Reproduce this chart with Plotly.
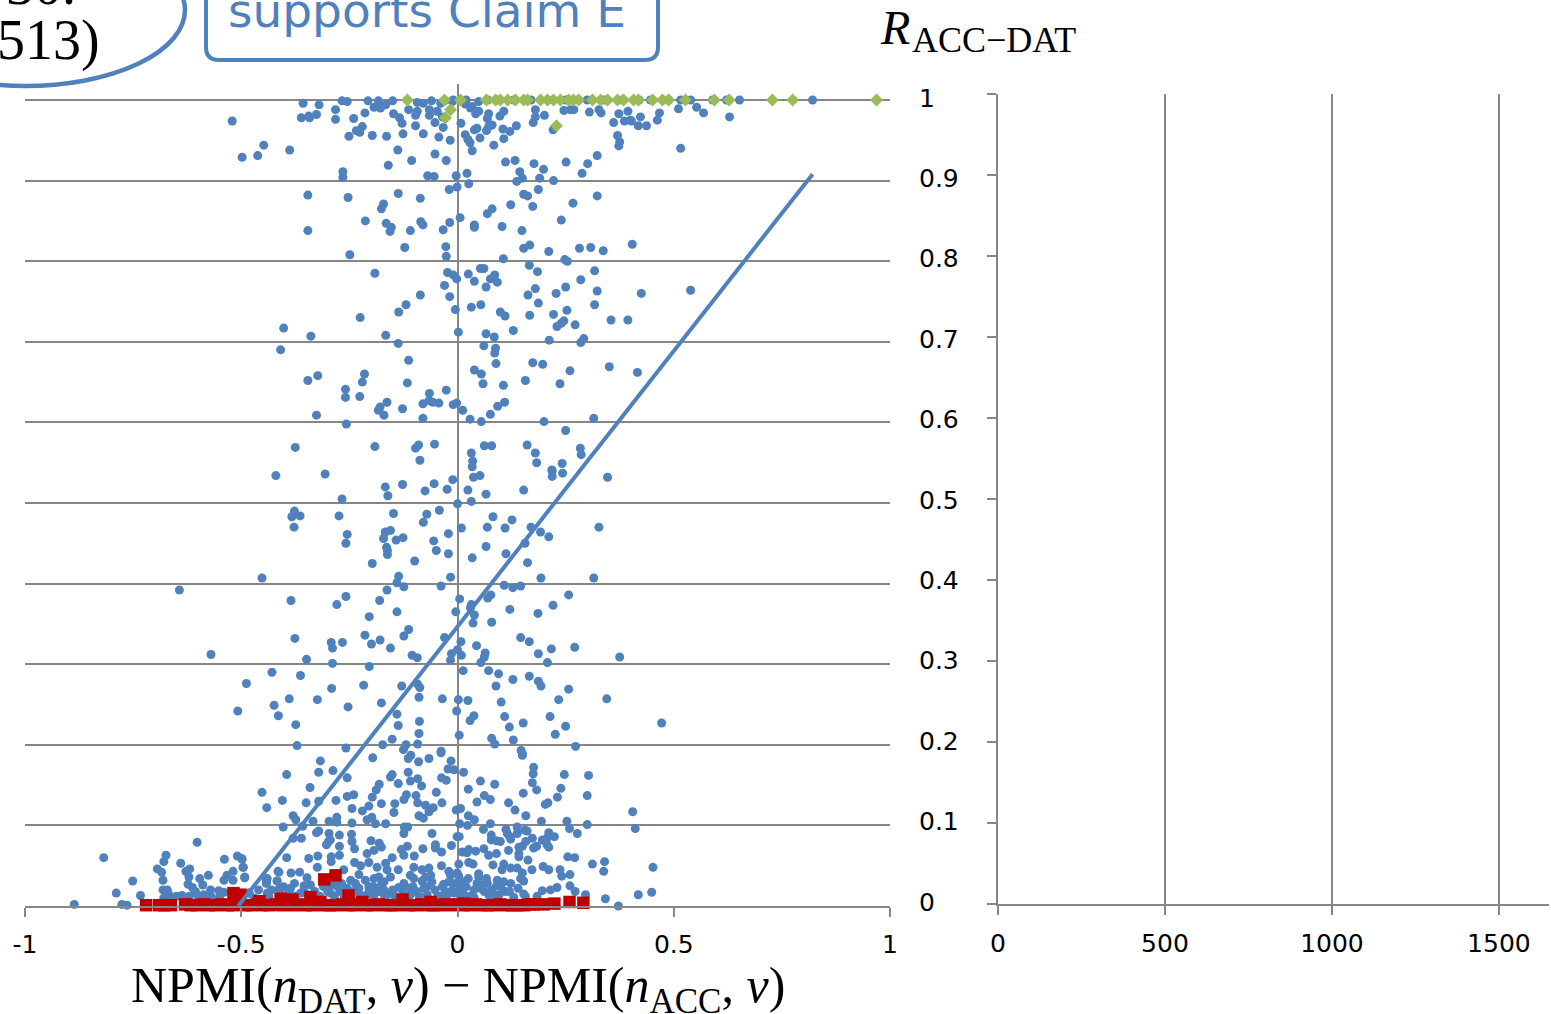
import plotly.graph_objects as go

W, H = 1551, 1014

# ---------- data ----------
blue_top = [(-.357,.996),(-.320,.994),(-.267,.999),(-.255,.998),(-.207,.999),(-.183,.999),(-.150,.999),(-.193,.991),(-.178,.990),(-.166,.994),(-.113,.988),(-.093,.986),(-.097,.981),(-.093,.997),(-.079,.996),(-.060,.999),(-.039,.996),(-.065,.988),(-.065,.981),(-.047,.986),(-.035,.979),(-.012,.998),(.018,.995),(.034,.992),(.049,.998),(.030,.990),(.042,.983),(.049,.986),(.072,.983),(.069,.977),(.107,.986),(.098,.980),(.180,.988),(.180,.979),(.201,.981),(.175,.972),(.246,.987),(.261,.988),(.269,.988),(.305,.985),(.327,.988),(.332,.984),(.373,.983),(.394,.986),(.386,.974),(.361,.972),(.400,.975),
(-.521,.974),(-.361,.978),(-.344,.980),(-.342,.978),(-.326,.982),(-.282,.988),(-.282,.976),(-.240,.977),(-.214,.984),(-.148,.983),(-.134,.978),(-.128,.971),(-.097,.968),(-.052,.972),(-.033,.966),(.008,.971),(.080,.969),(.072,.967),(.136,.968),(.105,.964),(.121,.961),(.067,.962),(.045,.965),(.039,.963),
(-.220,.967),(-.234,.962),(-.226,.960),(-.251,.955),(-.197,.956),(-.164,.955),(-.126,.958),(-.079,.958),(-.043,.954),(-.017,.950),(.018,.957),(.024,.951),(.029,.947),(.052,.953),(.107,.952),(.084,.944),(.221,.963),(.370,.956),(.375,.948),(.373,.943),
(-.448,.944),(-.388,.938),(-.498,.929),(-.462,.931),(-.138,.938),(-.052,.933),(.034,.937),(-.106,.925),(-.026,.925),(-.160,.919),(.111,.923),(.133,.925),(.177,.921),(.251,.923),(.301,.921),(.323,.931),(-.265,.911),(-.265,.904),(-.069,.906),(-.054,.905),(-.003,.906),(.022,.909),(.144,.911),(.199,.914),(.288,.909),(.150,.903),(.137,.899),(.190,.903),(.222,.900),(.026,.896),(-.001,.892),(-.019,.889),(.187,.889),(-.346,.882),(-.253,.879),(-.137,.884),(-.086,.878),(.153,.883),(.162,.881),(.323,.881),(.267,.872),(.123,.870),(.174,.868),(-.171,.871),(-.176,.865),(.080,.865),(.069,.859),(.006,.854),(-.213,.850),(-.165,.847),(-.085,.849),(-.080,.845),(-.018,.848),(-.153,.842),(-.156,.837),(-.346,.838),(-.109,.838),(-.033,.839),(.039,.845),(.039,.842),(.103,.843),(.149,.838),(.240,.851),(-.122,.817),(-.027,.818),(-.249,.808),(-.026,.806),(.153,.816),(.167,.820),(.211,.812),(.282,.816),(.308,.817),(.337,.813),(.404,.821),(.106,.803),(.248,.802),(.254,.800),
(.629,.979),(.569,.984),(.553,.991),(.511,.989),(.516,.940),(.467,.984),(.462,.975),(.437,.968),(.418,.968),(.402,.974),(.423,.979),(.652,1),(.821,1),(.539,1),(.488,1),(.446,1),(.516,1),(.590,1),(.622,1),(.07,1),(.09,1),(.13,1),(.17,1),(.21,1),(.25,1),(.30,1),(.34,1),(.38,1),(.42,1),(.02,1),(-.01,1),(-.03,.999)]

blue_upper = [(-.191,.785),(-.023,.786),(-.010,.783),(-.002,.778),(.025,.784),(.039,.775),(.053,.791),(.061,.791),(.086,.783),(.076,.778),(.092,.774),(.066,.768),(-.030,.770),(.166,.795),(.185,.787),(.317,.788),(.285,.777),(.250,.768),(.180,.766),(.228,.760),(.163,.758),(.323,.763),(.425,.760),(.539,.764),(-.086,.758),(-.018,.756),(-.119,.746),(-.136,.737),(.054,.746),(.032,.743),(-.005,.740),(.187,.748),(.317,.746),(.253,.739),(.099,.737),(.110,.732),(.167,.733),(.222,.734),(-.225,.730),(-.402,.717),(.355,.727),(.394,.727),(.246,.726),(.240,.723),(.230,.719),(.272,.721),(.129,.714),(.002,.712),(.066,.710),(.085,.706),(-.166,.708),(-.339,.707),(-.137,.698),(.212,.702),(.292,.704),(.285,.699),(-.409,.690),(.061,.695),(.088,.692),(.086,.686),(-.113,.677),(.089,.673),(.174,.674),(.197,.672),(.039,.665),(.055,.660),(.260,.664),(.351,.669),(.416,.662),(-.215,.660),(-.323,.658),(-.346,.652),(-.220,.650),(-.116,.649),(.059,.648),(.106,.646),(.157,.652),(.237,.648),(-.259,.641),(-.259,.631),(-.226,.632),(-.065,.636),(-.026,.640),(-.066,.627),(-.057,.625),(-.043,.624),(-.080,.623),(-.163,.625),(-.179,.619),(-.183,.615),(-.170,.609),(-.127,.617),(-.010,.622),(-.002,.624),(.012,.615),(.109,.625),(.093,.620),(.076,.610),(.029,.604),(.055,.601),(-.326,.609),(-.257,.598),(-.080,.605),(.200,.601),(.315,.605),(.250,.590),(-.375,.569),(-.191,.570),(-.053,.573),(-.090,.572),(-.097,.568),(-.087,.553),(.062,.571),(.079,.571),(.161,.572),(.284,.568),(.286,.560),(.180,.562),(.032,.562),(.035,.552),(.034,.545),(.183,.550),(.242,.549),(.218,.541)]

blue_mid = [(-.420,.534),(-.306,.536),(-.167,.520),(-.127,.523),(-.054,.524),(-.075,.515),(-.024,.517),(-.011,.529),(.037,.532),(.052,.534),(.024,.516),(.066,.511),(.153,.516),(.219,.540),(.219,.533),(.243,.537),(.347,.532),(-.161,.509),(-.267,.505),(0,.499),(.032,.502),(-.377,.490),(-.383,.483),(-.364,.484),(-.378,.470),(-.274,.484),(-.148,.487),(-.071,.486),(-.042,.491),(-.079,.476),(.082,.483),(.126,.479),(.009,.469),(.069,.470),(.110,.469),(.170,.470),(.192,.464),(.211,.458),(.327,.470),(-.255,.461),(-.258,.450),(-.155,.466),(-.167,.464),(-.171,.456),(-.142,.454),(-.126,.457),(-.055,.453),(-.021,.462),(.156,.450),(.066,.446),(-.164,.445),(-.162,.441),(-.162,.436),(-.049,.441),(-.021,.437),(.112,.437),(.034,.432),(-.099,.428),(-.197,.425),(.162,.426),(-.452,.407),(-.136,.409),(-.016,.408),(.193,.407),(.315,.407),(-.140,.401),(-.124,.396),(-.038,.397),(.108,.398),(.128,.395),(.146,.397),(-.643,.392),(-.163,.392),(-.258,.384),(-.385,.379),(-.180,.379),(-.279,.374),(.005,.381),(.077,.386),(.070,.382),(.032,.374),(.030,.370),(.257,.386),(.221,.373),(.121,.368),(-.004,.365),(.039,.361),(-.140,.365),(-.204,.359),(.186,.363),(.036,.351),(.079,.352),(-.113,.343),(-.124,.335),(-.214,.336),(-.030,.333),(.146,.333),(.166,.328),(-.376,.332),(-.292,.327),(-.266,.327),(-.289,.320),(-.179,.330),(-.199,.325),(-.155,.320),(.008,.328),(.044,.323),(.271,.321),(.217,.319),(0,.318),(-.014,.313),(.009,.311),(.064,.314),(.062,.309),(.187,.313),(-.570,.312),(-.105,.311),(-.093,.308),(-.016,.305),(.375,.309),(-.349,.306),(.054,.302),(.208,.302),(-.289,.301),(-.204,.297),(.013,.292),(.072,.292),(.095,.288),(-.429,.290),(-.363,.286),(-.488,.276),(.166,.285),(.128,.281),(.187,.279),(.193,.273),(-.092,.275),(-.087,.271),(-.129,.273),(-.217,.274),(-.291,.270),(.089,.273),(.257,.269),(-.089,.259),(-.389,.257),(-.324,.256),(-.035,.257),(.002,.256),(.024,.255),(.101,.253),(.234,.256),(.345,.257),(-.176,.252),(-.424,.249),(-.253,.247),(-.508,.242),(-.002,.242),(-.414,.236),(-.140,.238),(.038,.236),(.029,.230),(.109,.235),(.214,.235),(.152,.227),(.472,.227),(-.088,.229),(-.374,.225),(-.137,.224),(.120,.222),(.250,.223),(-.089,.214),(.226,.213),(.004,.212),(.079,.208),(-.151,.207),(.129,.206),(.086,.201),(-.173,.200),(-.119,.200),(-.092,.201),(-.125,.194),(-.258,.196),(-.371,.199),(.273,.198),(.147,.193),(-.038,.192)]

blue_low = [(-.196,.184),(-.317,.180),(-.108,.187),(-.114,.183),(-.090,.179),(-.066,.183),(-.038,.190),(-.015,.180),(.150,.189),(.150,.187),(-.022,.170),(-.008,.169),(.014,.166),(.176,.172),(.175,.164),(.247,.163),(.303,.162),(-.395,.163),(-.321,.166),(-.288,.168),(-.255,.159),(-.151,.163),(-.155,.160),(-.114,.166),(-.092,.158),(-.109,.155),(-.137,.152),(-.181,.151),(-.188,.144),(-.037,.159),(-.026,.156),(-.083,.149),(.053,.155),(.086,.151),(.173,.153),(.183,.144),(.025,.145),(.239,.146),(-.341,.147),(-.452,.141),(-.049,.141),(.152,.140),(.300,.137),(.231,.135),(.062,.137),(-.240,.138),(-.255,.136),(-.197,.135),(-.118,.138),(-.096,.137),(-.124,.132),(.076,.132),(.045,.129),(-.281,.131),(-.405,.131),(-.350,.128),(-.321,.130),(-.145,.127),(-.176,.127),(-.092,.128),(-.074,.125),(-.036,.128),(.118,.128),(.209,.128),(.203,.126),(-.441,.122),(-.205,.124),(-.244,.121),(-.220,.118),(-.147,.116),(-.056,.122),(-.066,.117),(.007,.121),(-.003,.119),(.133,.119),(.405,.117),(.158,.112),(.025,.112),(.039,.107),(-.089,.112),(-.079,.109),(-.380,.112),(-.374,.107),(-.279,.110),(-.198,.110),(-.209,.107),(-.334,.105),(-.297,.105),(-.279,.104),(-.244,.103),(-.190,.102),(-.166,.102),(.005,.102),(.076,.102),(.194,.105),(.253,.105),(.300,.101),(-.403,.098),(-.358,.099),(-.123,.098),(-.115,.098),(.023,.100),(.138,.098),(.259,.096),(.411,.096),(.060,.095),(.112,.095),(.156,.094),(.161,.093),(.211,.091),(.277,.090),(-.321,.093),(-.326,.091),(-.297,.090),(-.124,.090),(-.059,.090),(-.245,.089),(-.273,.088),(.078,.088),(.115,.090),(.121,.086),(.138,.090),(-.380,.084),(-.361,.084),(-.001,.086),(.004,.086),(.173,.084),(.224,.086),(.196,.082),(.207,.084),(-.294,.082),(-.298,.080),(-.244,.080),(-.200,.081),(.078,.082),(.090,.081),(.099,.080),(.123,.083),(.158,.080),(-.303,.076),(-.273,.074),(-.181,.078),(-.176,.073),(-.116,.074),(-.051,.076),(-.014,.075),(.150,.074),(.176,.072),(.183,.074),(.207,.076),(.211,.073),(-.238,.071),(-.273,.063),(-.193,.069),(-.130,.070),(-.080,.071),(-.051,.072),(-.037,.067),(.011,.067),(.026,.070),(.022,.066),(.042,.068),(.061,.071),(.072,.063),(.090,.065),(.118,.069),(.142,.073),(.142,.065),(.142,.061),(-.124,.063),(-.209,.065),(-.100,.062),(-.323,.062),(-.395,.060),(-.344,.059),(-.292,.061),(-.292,.055),(-.151,.060),(-.498,.058),(.163,.057),(.255,.061),(.271,.060),(.340,.055),(-.238,.054),(-.205,.054),(.026,.054),(.036,.052),(.082,.051),(.107,.052),(-.166,.053),(.003,.052),(.312,.052),(.452,.048),(-.495,.048),(-.224,.050),(-.186,.048),(-.324,.048),(-.037,.050),(-.082,.045),(-.066,.047),(-.101,.048),(-.137,.045),(-.163,.045),(-.263,.045),(.172,.045),(.198,.049),(.211,.045),(.123,.047),(.138,.047),(.103,.045),(.237,.045),(.338,.043),(-.413,.042),(-.385,.041),(-.365,.042),(.150,.041),(-.020,.043),(-.001,.041),(.049,.040),(.067,.034),(.260,.039),(.241,.037),(-.492,.035),(-.440,.034),(-.348,.035),(-.417,.031),(-.377,.028),(-.228,.039),(-.182,.036),(-.155,.036),(-.109,.038),(-.101,.034),(-.062,.038),(-.074,.036),(-.016,.038),(.003,.037),(.025,.034),(.049,.036),(.092,.032),(.107,.030),(.123,.028),(.146,.034),(.153,.031),(-.442,.029),(-.247,.032),(-.236,.028),(-.213,.032),(-.193,.034),(-.170,.030),(-.124,.028),(-.082,.031),(-.059,.030),(-.032,.027),(-.008,.028),(.011,.030),(.057,.026),(.069,.028),(.090,.025),(.260,.025),(.230,.023),(.215,.020),(.196,.019),(.272,.018),(.296,.014),(.449,.017),(.418,.014),(.342,.009),(.372,0),(-.402,.024),(-.386,.022),(-.355,.025),(-.340,.026),(-.297,.024),(-.278,.024),(-.228,.022),(-.205,.024),(-.186,.022),(-.170,.020),(-.136,.023),(-.103,.024),(-.070,.024),(-.035,.024),(-.012,.020),(.007,.022),(.038,.020),(.053,.022),(.111,.018),(.153,.015),(.157,.012),(.130,.011),(.184,.012),(.072,.014),(.096,.014),(.038,.011),(.007,.012),(-.024,.014),(-.039,.012),(-.070,.014),(-.109,.014),(-.163,.014),(-.193,.014),(-.225,.014),(-.294,.016),(-.363,.016),(-.409,.014),(-.436,.012),(-.482,.016),(-.502,.014)]

blue_base = [(-.300,.018),(-.285,.012),(-.272,.018),(-.262,.010),(-.283,.030),(-.268,.028),(-.255,.022),(-.240,.018),(-.245,.010),(-.215,.012),(-.205,.018),(-.195,.024),(-.195,.012),(-.180,.018),(-.175,.028),(-.168,.012),(-.150,.020),(-.145,.012),(-.128,.020),(-.118,.012),(-.110,.022),(-.095,.018),(-.088,.012),(-.078,.022),(-.052,.020),(-.046,.012),(-.028,.018),(-.020,.030),(-.008,.016),(.002,.028),(.012,.016),(.020,.024),(.028,.012),(.045,.028),(.062,.018),(.080,.020),(.085,.012),(.100,.024),(.120,.018),(.140,.022),(-.345,.012),(-.33,.018),(-.318,.012),(-.31,.024),(-.375,.012),(-.352,.016),(-.39,.018),(-.43,.02),(-.46,.02),(-.47,.01),(-.52,.014),(-.55,.012),(-.57,.012),(-.60,.012),(-.62,.012),(-.65,.012),(-.665,.008)]

blue_left = [(-.886,.002),(-.818,.060),(-.602,.079),(-.789,.016),(-.751,.031),(-.776,.002),(-.764,.001),(-.733,.013),(-.674,.063),(-.679,.055),(-.694,.046),(-.684,.042),(-.681,.032),(-.681,.020),(-.671,.020),(-.667,.014),(-.679,.010),(-.640,.053),(-.619,.046),(-.628,.043),(-.621,.036),(-.623,.027),(-.613,.023),(-.606,.018),(-.637,.013),(-.596,.034),(-.589,.026),(-.576,.038),(-.571,.020),(-.587,.014),(-.552,.019),(-.540,.017),(-.539,.058),(-.509,.062),(-.499,.059),(-.496,.048),(-.492,.036),(-.519,.043),(-.533,.038),(-.540,.032),(-.519,.032),(-.482,.016),(-.442,.032),(-.442,.028),(-.415,.043),(-.417,.031),(-.440,.016),(-.413,.021)]

green_pts = [(-.116,1),(-.030,1),(.007,1),(.067,1),(.088,1),(.099,1),(.116,1),(.134,1),(.153,1),(.162,1),(.192,1),(.208,1),(.222,1),(.238,1),(.257,1),(.268,1),(.280,1),(.312,1),(.331,1),(.347,1),(.370,1),(.384,1),(.407,1),(.418,1),(.451,1),(.474,1),(.488,1),(.527,1),(.594,1),(.628,1),(.728,1),(.775,1),(.969,1),(-.016,.988),(-.028,.978),(.229,.968)]

red_base_x = [-.720,-.690,-.678,-.663,-.630,-.617,-.603,-.588,-.575,-.560,-.547,-.532,-.520,-.505,-.490,-.478,-.462,-.450,-.435,-.420,-.405,-.392,-.378,-.364,-.350,-.336,-.322,-.308,-.295,-.280,-.266,-.252,-.238,-.224,-.210,-.196,-.182,-.168,-.154,-.140,-.126,-.112,-.098,-.084,-.070,-.056,-.042,-.028,-.014,0,.014,.028,.042,.056,.070,.084,.098,.112,.126,.140,.154,.168,.176]
red_base_y = [.001,.001,.001,.001,.002,.001,.001,.002,.001,.001,.002,.001,.001,.002,.001,.001,.002,.001,.001,.002,.001,.002,.001,.002,.001,.001,.002,.001,.001,.001,.002,.001,.001,.002,.001,.001,.002,.001,.001,.001,.002,.001,.001,.002,.001,.001,.001,.002,.001,.002,.001,.001,.002,.001,.001,.001,.002,.001,.001,.001,.001,.002,.002]
red_raised = [(-.282,.038),(-.308,.033),(-.518,.016),(-.502,.014),(-.458,.006),(-.409,.009),(-.382,.008),(-.340,.011),(-.317,.005),(-.252,.013),(-.220,.005),(-.127,.008),(-.062,.005),(.016,.003),(.199,.002),(.224,.003),(.259,.005),(.291,.004)]

trend_x = [-.507, .821]
trend_y = [0, .908]

left_x_ticks = [-1, -.5, 0, .5, 1]
left_x_labels = ["-1", "-0.5", "0", "0.5", "1"]
value_ticks = [0, .1, .2, .3, .4, .5, .6, .7, .8, .9, 1]
value_labels = ["0", "0.1", "0.2", "0.3", "0.4", "0.5", "0.6", "0.7", "0.8", "0.9", "1"]
right_x_ticks = [0, 500, 1000, 1500]

BLUE, RED, GREEN, GREY = "#4F81BD", "#C00000", "#9BBB59", "#868686"
SERIF = "Liberation Serif"
SANS = "DejaVu Sans"
Y_TOP = 1.02   # a little head-room so the 1.0 gridline is kept


def px(x):
    return x / W


def py(y):
    return 1 - y / H


blue_all = blue_top + blue_upper + blue_mid + blue_low + blue_base + blue_left

fig = go.Figure()
fig.add_trace(go.Scatter(x=[p[0] for p in blue_all], y=[p[1] for p in blue_all], mode="markers",
                         marker=dict(symbol="circle", size=9, color=BLUE), cliponaxis=False))
fig.add_trace(go.Scatter(x=[p[0] for p in green_pts], y=[p[1] for p in green_pts], mode="markers",
                         marker=dict(symbol="diamond", size=10, color=GREEN), cliponaxis=False))
fig.add_trace(go.Scatter(x=red_base_x + [p[0] for p in red_raised], y=red_base_y + [p[1] for p in red_raised],
                         mode="markers", marker=dict(symbol="square", size=12.5, color=RED), cliponaxis=False))
fig.add_trace(go.Scatter(x=trend_x, y=trend_y, mode="lines", line=dict(color=BLUE, width=4), cliponaxis=False))
fig.add_trace(go.Scatter(x=[0], y=[0], xaxis="x2", yaxis="y2", mode="markers", marker=dict(opacity=0)))

tickfont = dict(family=SANS, size=25, color="black")
fig.update_layout(
    width=W, height=H, autosize=False, showlegend=False, hovermode=False,
    margin=dict(l=0, r=0, t=0, b=0), plot_bgcolor="white", paper_bgcolor="white",
    xaxis=dict(domain=[px(25), px(890)], range=[-1, 1], tickmode="array", tickvals=left_x_ticks,
               ticktext=left_x_labels, showgrid=False, zeroline=True, zerolinecolor=GREY, zerolinewidth=2,
               showline=True, linecolor=GREY, linewidth=2, ticks="outside", ticklen=9, tickwidth=2,
               tickcolor=GREY, tickfont=tickfont, ticklabelstandoff=6, automargin=False),
    yaxis=dict(domain=[py(906), py(100 - (Y_TOP - 1) * 806)], range=[0, Y_TOP], tickmode="array", tickvals=value_ticks,
               showticklabels=False, showgrid=True, gridcolor=GREY, gridwidth=2, zeroline=False, showline=False,
               ticks="", automargin=False),
    xaxis2=dict(domain=[px(998), px(1549)], range=[0, 1650], anchor="y2", tickmode="array",
                tickvals=right_x_ticks, showgrid=True, gridcolor=GREY, gridwidth=1.5, zeroline=False,
                showline=True, linecolor=GREY, linewidth=1.5, ticks="outside", ticklen=9, tickwidth=1.5,
                tickcolor=GREY, tickfont=tickfont, ticklabelstandoff=7, automargin=False),
    yaxis2=dict(domain=[py(904), py(94)], range=[0, 1], anchor="x2", tickmode="array", tickvals=value_ticks,
                showticklabels=False, showgrid=False, zeroline=False, showline=True, linecolor=GREY,
                linewidth=1.5, ticks="outside", ticklen=9, tickwidth=1.5, tickcolor=GREY, automargin=False),
)

annotations = []
for v, lab in zip(value_ticks, value_labels):
    annotations.append(dict(x=px(917), xref="paper", y=py(902 - 804 * v), yref="paper", text=lab, showarrow=False,
                            xanchor="left", yanchor="middle", font=tickfont))


def note(x, y, text, family, size, color="black", xanchor="left"):
    annotations.append(dict(x=px(x), xref="paper", y=py(y), yref="paper", text=text, showarrow=False,
                            xanchor=xanchor, yanchor="middle", font=dict(family=family, size=size, color=color)))


note(102, 41, "513)", SERIF, 56, xanchor="right")
note(78, -15, "30.", SERIF, 56, xanchor="right")
note(226, 10, "supports Claim E", SANS, 47, color=BLUE)
note(878, 27, "<i>R</i>", SERIF, 48)
note(910, 40, "ACC−DAT", SERIF, 36)
note(458, 989, "NPMI(<i>n</i><sub>DAT</sub>, <i>v</i>) − NPMI(<i>n</i><sub>ACC</sub>, <i>v</i>)", SERIF, 50, xanchor="center")
fig.update_layout(annotations=annotations)

r = 13
L, R_, B = 206, 658, 60
rect = (f"M {px(L)} {py(-20)} L {px(L)} {py(B-r)} Q {px(L)} {py(B)} {px(L+r)} {py(B)} "
        f"L {px(R_-r)} {py(B)} Q {px(R_)} {py(B)} {px(R_)} {py(B-r)} L {px(R_)} {py(-20)}")
fig.update_layout(shapes=[
    dict(type="circle", xref="paper", yref="paper", x0=px(-135), x1=px(185), y0=py(86), y1=py(-66),
         line=dict(color=BLUE, width=4.5), fillcolor="rgba(0,0,0,0)"),
    dict(type="path", xref="paper", yref="paper", path=rect, line=dict(color=BLUE, width=4)),
])

fig.write_html("out.html", config=dict(displayModeBar=False),
               post_script="document.body.style.margin='0';document.body.style.overflow='hidden';")
